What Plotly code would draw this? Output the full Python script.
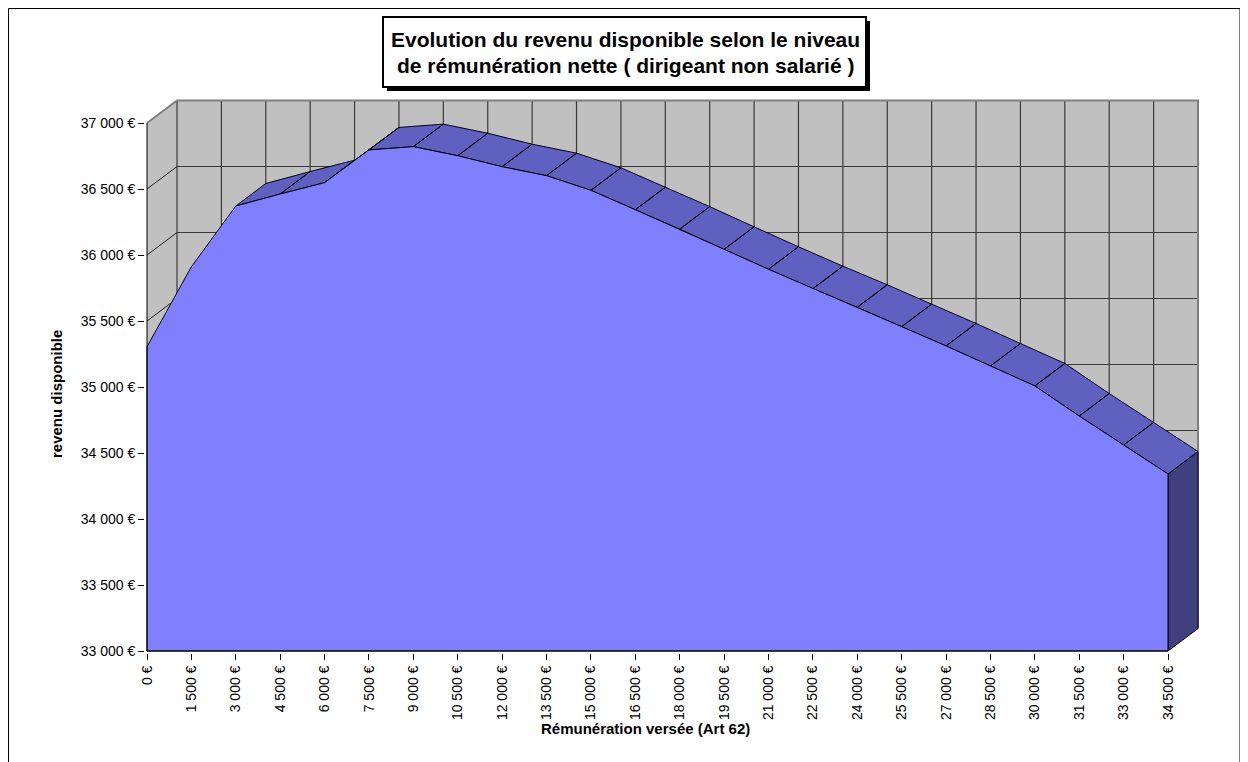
import plotly.graph_objects as go

# ---------------- data ----------------
remuneration = [0, 1500, 3000, 4500, 6000, 7500, 9000, 10500, 12000, 13500, 15000, 16500,
                18000, 19500, 21000, 22500, 24000, 25500, 27000, 28500, 30000, 31500, 33000, 34500]
revenu = [35305, 35911, 36371, 36462, 36548, 36796, 36821, 36752, 36669, 36601, 36490, 36343,
          36196, 36043, 35892, 35745, 35604, 35457, 35311, 35159, 35008, 34780, 34561, 34341]
x_tick_labels = ["0 €", "1 500 €", "3 000 €", "4 500 €", "6 000 €", "7 500 €", "9 000 €",
                 "10 500 €", "12 000 €", "13 500 €", "15 000 €", "16 500 €", "18 000 €",
                 "19 500 €", "21 000 €", "22 500 €", "24 000 €", "25 500 €", "27 000 €",
                 "28 500 €", "30 000 €", "31 500 €", "33 000 €", "34 500 €"]
y_tick_values = [33000, 33500, 34000, 34500, 35000, 35500, 36000, 36500, 37000]
y_tick_labels = ["33 000 €", "33 500 €", "34 000 €", "34 500 €", "35 000 €",
                 "35 500 €", "36 000 €", "36 500 €", "37 000 €"]

title_lines = ["Evolution du revenu disponible selon le niveau",
               "de rémunération nette ( dirigeant non salarié )"]
x_title = "Rémunération versée (Art 62)"
y_title = "revenu disponible"

# ---------------- layout geometry ----------------
OFF = 8                       # page body margin
W, H = 1248 - OFF, 762 - OFF
L, R, T, B = 137, 48, 90, 109
X0_PX, X1_PX = 147 - OFF, 1168 - OFF      # first / last category
Y0_PX, Y1_PX = 651 - OFF, 123 - OFF       # lowest / highest y tick
DEPTH_PX_X, DEPTH_PX_Y = 30, 22.5

xmin, xmax = remuneration[0], remuneration[-1]
ymin, ymax = y_tick_values[0], y_tick_values[-1]
kx = (X1_PX - X0_PX) / (xmax - xmin)
ky = (Y0_PX - Y1_PX) / (ymax - ymin)
DX = DEPTH_PX_X / kx
DY = DEPTH_PX_Y / ky
x_range = [xmin - (X0_PX - L) / kx, xmax + (W - R - X1_PX) / kx]
y_range = [ymin - (H - B - Y0_PX) / ky, ymax + (Y1_PX - T) / ky]

PW, PH = W - L - R, H - T - B


def px(xp):
    return (xp - OFF - L) / PW


def py(yp):
    return ((H - B) - (yp - OFF)) / PH


FONT = "Arial, Liberation Sans, sans-serif"
GRAY_WALL = "#C0C0C0"
FRONT = "#8080FF"
TOP = "#6060C0"
SIDE = "#404080"

fig = go.Figure()


def poly(xs, ys, fill, lc="black", lw=1):
    fig.add_trace(go.Scatter(x=xs, y=ys, mode="lines", fill="toself", fillcolor=fill,
                             line=dict(color=lc, width=lw), hoverinfo="skip", showlegend=False))


def lines(xs, ys, color, width):
    fig.add_trace(go.Scatter(x=xs, y=ys, mode="lines", line=dict(color=color, width=width),
                             hoverinfo="skip", showlegend=False))


# back wall
poly([xmin + DX, xmax + DX, xmax + DX, xmin + DX, xmin + DX],
     [ymin + DY, ymin + DY, ymax + DY, ymax + DY, ymin + DY], GRAY_WALL, lw=0)
# left wall
poly([xmin, xmin + DX, xmin + DX, xmin, xmin],
     [ymin, ymin + DY, ymax + DY, ymax, ymin], GRAY_WALL, lw=0)

# back wall grid
gx, gy = [], []
for c in remuneration[:-1]:
    gx += [c + DX, c + DX, None]
    gy += [ymin + DY, ymax + DY, None]
for t in y_tick_values[:-1]:
    gx += [xmin + DX, xmax + DX, None]
    gy += [t + DY, t + DY, None]
lines(gx, gy, "#3a3a3a", 1.2)

# left wall diagonals
dx_, dy_ = [], []
for t in y_tick_values[:-1]:
    dx_ += [xmin, xmin + DX, None]
    dy_ += [t, t + DY, None]
lines(dx_, dy_, "#202020", 1)

# wall outer edges
lines([xmin, xmin + DX, xmax + DX, xmax + DX],
      [ymax, ymax + DY, ymax + DY, ymin + DY], "#808080", 2)

# right end face
poly([xmax, xmax, xmax + DX, xmax + DX, xmax],
     [ymin, revenu[-1], revenu[-1] + DY, ymin + DY, ymin], SIDE)

# top surface quads (only those facing the viewer)
qx, qy = [], []
for i in range(len(remuneration) - 1):
    x0, x1 = remuneration[i], remuneration[i + 1]
    v0, v1 = revenu[i], revenu[i + 1]
    if (v1 - v0) / (x1 - x0) < DY / DX:
        qx += [x0, x1, x1 + DX, x0 + DX, x0, None]
        qy += [v0, v1, v1 + DY, v0 + DY, v0, None]
poly(qx, qy, TOP)

# front face
poly([xmin] + remuneration + [xmax, xmin], [ymin] + revenu + [ymin, ymin], FRONT)

# axis lines
lines([xmin, xmin, None, xmin, xmax], [ymin, ymax, None, ymin, ymin], "black", 1)

shapes = []
# outer chart border
shapes.append(dict(type="rect", xref="paper", yref="paper",
                   x0=px(8.5), x1=px(1240), y0=py(790), y1=py(8.5),
                   line=dict(color="black", width=1), fillcolor="rgba(0,0,0,0)"))
# title box shadow + box
bx0, bx1, by0, by1 = 383, 866, 17, 87
shapes.append(dict(type="rect", xref="paper", yref="paper",
                   x0=px(bx0 + 4), x1=px(bx1 + 4), y0=py(by1 + 4), y1=py(by0 + 4),
                   line=dict(width=0), fillcolor="black"))
shapes.append(dict(type="rect", xref="paper", yref="paper",
                   x0=px(bx0), x1=px(bx1), y0=py(by1), y1=py(by0),
                   line=dict(color="black", width=2), fillcolor="white"))

annotations = []
for txt, yc in zip(title_lines, [40, 66]):
    annotations.append(dict(text="<b>" + txt + "</b>", xref="paper", yref="paper",
                            x=px((bx0 + bx1) / 2 + 1), y=py(yc), xanchor="center", yanchor="middle",
                            showarrow=False, font=dict(family=FONT, size=21, color="black")))
annotations.append(dict(text="<b>" + x_title + "</b>", xref="paper", yref="paper",
                        x=px(645), y=py(728), xanchor="center", yanchor="middle",
                        showarrow=False, font=dict(family=FONT, size=15, color="black")))
annotations.append(dict(text="<b>" + y_title + "</b>", xref="paper", yref="paper",
                        x=px(56), y=py(394), xanchor="center", yanchor="middle", textangle=-90,
                        showarrow=False, font=dict(family=FONT, size=15, color="black")))

fig.update_layout(
    width=W, height=H,
    margin=dict(l=L, r=R, t=T, b=B, autoexpand=False),
    paper_bgcolor="white", plot_bgcolor="white",
    showlegend=False,
    shapes=shapes, annotations=annotations,
    xaxis=dict(range=x_range, showgrid=False, zeroline=False, showline=False,
               tickmode="array", tickvals=remuneration, ticktext=x_tick_labels,
               tickangle=-90, ticks="outside", ticklen=6, tickcolor="black", tickwidth=1,
               tickfont=dict(family=FONT, size=14, color="black"), automargin=False),
    yaxis=dict(range=y_range, showgrid=False, zeroline=False, showline=False,
               tickmode="array", tickvals=y_tick_values, ticktext=y_tick_labels,
               ticks="outside", ticklen=6, tickcolor="black", tickwidth=1,
               tickfont=dict(family=FONT, size=14, color="black"), automargin=False),
)

fig.write_html("out.html")
